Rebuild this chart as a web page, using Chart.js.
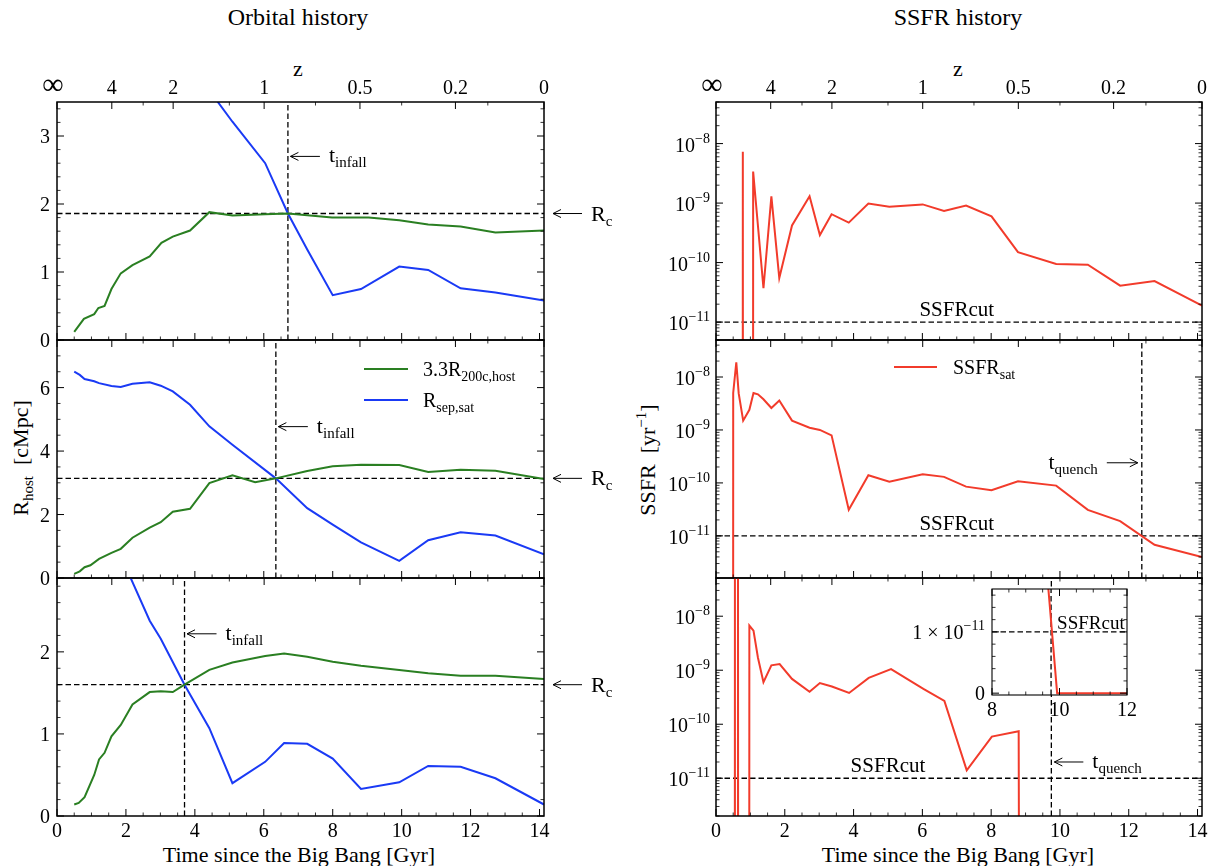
<!DOCTYPE html>
<html>
<head>
<meta charset="utf-8">
<title>Orbital and SSFR history</title>
<script src="https://cdn.jsdelivr.net/npm/chart.js@4.4.1/dist/chart.umd.min.js"></script>
<style>
  html, body { margin: 0; padding: 0; background: #fff; }
  #fig { position: relative; width: 1211px; height: 866px; overflow: hidden;
         font-family: "Liberation Serif", "DejaVu Serif", serif; color: #000; }
  #fig canvas { position: absolute; }
  .lab { position: absolute; white-space: nowrap; font-size: 22px; line-height: 1;
         transform: translate(-50%, -50%); }
  .lab.rot { transform: translate(-50%, -50%) rotate(-90deg); }
  .lab sub { font-size: 15px; vertical-align: -5px; line-height: 0; }
  .lab sup { font-size: 15px; vertical-align: 9px; line-height: 0; }
</style>
</head>
<body>
<div id="fig">
  <div class="lab" style="left:298px; top:17px; font-size:24px">Orbital history</div>
  <div class="lab" style="left:958px; top:17px; font-size:24px">SSFR history</div>
  <div class="lab" style="left:298px; top:69px">z</div>
  <div class="lab" style="left:958px; top:69px">z</div>
  <div class="lab" style="left:299px; top:855px">Time since the Big Bang [Gyr]</div>
  <div class="lab" style="left:958px; top:855px">Time since the Big Bang [Gyr]</div>
  <div class="lab rot" style="left:21px; top:458px">R<sub>host</sub>&nbsp;&nbsp;[cMpc]</div>
  <div class="lab rot" style="left:648px; top:460px">SSFR&nbsp;&nbsp;[yr<sup>−1</sup>]</div>
</div>
<script>
const FONT = '"Liberation Serif", "DejaVu Serif", serif';
const T_MAX = 14.13;

// top axis: redshift labels placed at the cosmic time they belong to
const zTimes = [0, 1.59, 3.37, 6.01, 8.79, 11.56, T_MAX];
const zNames = ['∞', '4', '2', '1', '0.5', '0.2', '0'];
const zMinorTimes = [2.5, 5, 7.5, 10, 12.5];
const timeTicks = [0, 2, 4, 6, 8, 10, 12, 14];

// orbital history, cMpc: 3.3 R200c of the host and host-satellite separation
const tHost1 = [0.50, 0.78, 1.08, 1.20, 1.38, 1.58, 1.85, 2.19, 2.69, 3.03, 3.36, 3.86, 4.42, 5.09, 6.04, 6.70, 7.98, 9.04, 9.93, 10.77, 11.71, 12.72, 14.13];
const rHost1 = [0.12, 0.31, 0.38, 0.47, 0.50, 0.75, 0.98, 1.10, 1.23, 1.43, 1.52, 1.61, 1.88, 1.83, 1.85, 1.86, 1.80, 1.80, 1.76, 1.70, 1.67, 1.58, 1.61];
const tSep1 = [3.86, 4.42, 5.09, 6.04, 6.70, 7.26, 8.00, 8.82, 9.93, 10.77, 11.71, 12.72, 14.13];
const rSep1 = [4.10, 3.67, 3.21, 2.60, 1.86, 1.33, 0.66, 0.75, 1.08, 1.03, 0.76, 0.70, 0.58];

const tHost2 = [0.50, 0.66, 0.80, 0.97, 1.22, 1.58, 1.85, 2.19, 2.69, 3.01, 3.36, 3.86, 4.42, 5.09, 5.75, 6.35, 7.26, 8.00, 8.82, 9.93, 10.77, 11.71, 12.72, 14.13];
const rHost2 = [0.13, 0.21, 0.34, 0.40, 0.60, 0.79, 0.92, 1.27, 1.59, 1.76, 2.09, 2.18, 2.99, 3.24, 3.02, 3.14, 3.37, 3.52, 3.57, 3.56, 3.34, 3.41, 3.38, 3.12];
const tSep2 = [0.50, 0.66, 0.80, 1.08, 1.22, 1.58, 1.85, 2.19, 2.69, 3.01, 3.36, 3.86, 4.42, 5.09, 6.35, 7.26, 8.00, 8.82, 9.93, 10.77, 11.71, 12.72, 14.13];
const rSep2 = [6.50, 6.40, 6.27, 6.20, 6.14, 6.05, 6.02, 6.12, 6.17, 6.06, 5.88, 5.46, 4.78, 4.20, 3.14, 2.20, 1.68, 1.12, 0.54, 1.19, 1.44, 1.34, 0.75];

const tHost3 = [0.50, 0.63, 0.80, 1.08, 1.22, 1.38, 1.58, 1.85, 2.19, 2.69, 3.01, 3.36, 3.70, 4.42, 5.09, 6.04, 6.59, 7.26, 8.00, 8.82, 9.93, 10.77, 11.71, 12.72, 14.13];
const rHost3 = [0.14, 0.16, 0.23, 0.50, 0.69, 0.77, 0.97, 1.11, 1.36, 1.51, 1.52, 1.51, 1.60, 1.78, 1.87, 1.95, 1.98, 1.94, 1.88, 1.83, 1.78, 1.74, 1.71, 1.71, 1.67];
const tSep3 = [1.85, 2.69, 3.01, 3.70, 4.42, 5.09, 6.04, 6.59, 7.26, 8.00, 8.82, 9.93, 10.77, 11.71, 12.72, 14.13];
const rSep3 = [3.17, 2.38, 2.16, 1.60, 1.07, 0.40, 0.66, 0.89, 0.88, 0.70, 0.33, 0.41, 0.61, 0.60, 0.46, 0.14];

const tInfall = [6.70, 6.35, 3.70];
const rCross = [1.86, 3.14, 1.60];

// specific star formation rate of the satellite, yr^-1 (0 = not forming stars)
const tSsfr1 = [0.50, 0.66, 0.78, 0.97, 1.08, 1.38, 1.61, 1.84, 2.21, 2.72, 3.02, 3.36, 3.86, 4.43, 5.04, 6.01, 6.63, 7.27, 8.01, 8.78, 9.89, 10.81, 11.75, 12.75, 14.13];
const ssfr1 = [0, 0, 7.3e-9, 0, 3.4e-9, 3.7e-11, 1.3e-9, 5.5e-11, 4.2e-10, 1.3e-9, 2.9e-10, 6.5e-10, 4.7e-10, 9.8e-10, 8.7e-10, 9.5e-10, 7.4e-10, 9.1e-10, 6.0e-10, 1.5e-10, 9.5e-11, 9.2e-11, 4.1e-11, 4.9e-11, 1.9e-11];

const tSsfr2 = [0.40, 0.50, 0.59, 0.66, 0.79, 0.97, 1.09, 1.22, 1.38, 1.61, 1.84, 2.21, 2.72, 3.02, 3.36, 3.86, 4.43, 5.04, 6.01, 6.63, 7.27, 8.01, 8.78, 9.89, 10.81, 11.75, 12.75, 14.13];
const ssfr2 = [0, 5.0e-9, 1.9e-8, 4.9e-9, 1.5e-9, 2.4e-9, 5.0e-9, 4.7e-9, 3.8e-9, 2.6e-9, 3.6e-9, 1.5e-9, 1.1e-9, 1.0e-9, 7.9e-10, 3.1e-11, 1.4e-10, 1.05e-10, 1.45e-10, 1.3e-10, 8.5e-11, 7.3e-11, 1.07e-10, 8.9e-11, 3.1e-11, 1.9e-11, 6.8e-12, 4.0e-12];

const tSsfr3 = [0.45, 0.55, 0.60, 0.64, 0.80, 0.97, 1.09, 1.22, 1.38, 1.61, 1.85, 2.21, 2.72, 3.02, 3.37, 3.87, 4.44, 5.09, 6.03, 6.64, 7.29, 8.02, 8.80, 9.93, 10.77, 11.71, 12.72, 14.13];
const ssfr3 = [0, 1.0e-7, 0, 1.0e-7, 0, 6.7e-9, 5.4e-9, 1.7e-9, 6.0e-10, 1.23e-9, 1.3e-9, 6.9e-10, 4.0e-10, 5.8e-10, 5.0e-10, 3.8e-10, 7.2e-10, 1.05e-9, 4.5e-10, 2.7e-10, 1.4e-11, 5.9e-11, 7.4e-11, 0, 0, 0, 0, 0];

const ssfrCut = 1e-11;
const tQuench = [null, 12.38, 9.75];

const GREEN = '#2a7f22', BLUE = '#1a3af5', RED = '#f23b2b';

// ---- layout of the six panels (pixels) ----
const fig = document.getElementById('fig');
const colX = [[57, 544], [716, 1202]];
const rowY = [[102, 340], [340, 578], [578, 816]];
const canvasX = [[0, 625], [606, 1211]];
const PAD_V = 46;

function makeCanvas(x0, x1, y0, y1) {
  const c = document.createElement('canvas');
  c.width = x1 - x0; c.height = y1 - y0;
  c.style.left = x0 + 'px'; c.style.top = y0 + 'px';
  c.style.width = (x1 - x0) + 'px'; c.style.height = (y1 - y0) + 'px';
  fig.appendChild(c);
  return c;
}

// log axes: non-positive values are pushed to a tiny number so the
// line drops straight out of the bottom of the panel
const clipLog = v => (v > 0 ? v : 1e-300);

function curve(ts, vs, color, map) {
  return {
    data: ts.map((t, i) => ({ x: t, y: map ? map(vs[i]) : vs[i] })),
    borderColor: color, borderWidth: 2, pointRadius: 0, fill: false, tension: 0
  };
}
function dashed(points) {
  return { data: points, borderColor: '#000', borderWidth: 1.3, borderDash: [5.5, 3],
           pointRadius: 0, fill: false };
}

function steps(lo, hi, step) {
  const out = [];
  for (let v = lo; v <= hi + 1e-9; v += step) out.push(Math.round(v * 1000) / 1000);
  return out;
}
function logTicks(min, max) {
  const major = [], minor = [];
  for (let e = -13; e <= -6; e++) {
    for (let k = 1; k <= 9; k++) {
      const v = k * Math.pow(10, e);
      if (v < min * 0.9999 || v > max * 1.0001) continue;
      (k === 1 ? major : minor).push(v);
    }
  }
  return { major, minor };
}

function drawRich(ctx, segs, x, y, align) {
  let w = 0;
  for (const s of segs) { ctx.font = s[1] + 'px ' + FONT; w += ctx.measureText(s[0]).width; }
  let cx = align === 'right' ? x - w : align === 'center' ? x - w / 2 : x;
  ctx.textAlign = 'left';
  ctx.textBaseline = 'alphabetic';
  for (const s of segs) {
    ctx.font = s[1] + 'px ' + FONT;
    ctx.fillText(s[0], cx, y + (s[2] || 0));
    cx += ctx.measureText(s[0]).width;
  }
  return w;
}

// horizontal arrow with an open head at (xh, y)
function arrow(ctx, xt, xh, y) {
  const d = Math.sign(xh - xt);
  ctx.lineWidth = 1;
  ctx.beginPath();
  ctx.moveTo(xt, y); ctx.lineTo(xh, y);
  ctx.moveTo(xh - d * 8, y - 4); ctx.lineTo(xh, y); ctx.lineTo(xh - d * 8, y + 4);
  ctx.stroke();
}

const SUB = (main, sub, big, small) => [[main, big || 22], [sub, small || 15, 5]];

// spines, inward ticks, tick labels and text for one panel
function frame(spec) {
  return {
    id: 'frame',
    beforeDatasetsDraw(chart) {
      if (!spec.white) return;
      const a = chart.chartArea, ctx = chart.ctx;
      ctx.save(); ctx.fillStyle = '#fff';
      ctx.fillRect(a.left, a.top, a.right - a.left, a.bottom - a.top);
      ctx.restore();
    },
    afterDatasetsDraw(chart) {
      const ctx = chart.ctx, a = chart.chartArea;
      const xs = chart.scales.x, ys = chart.scales.y;
      ctx.save();
      ctx.strokeStyle = '#000'; ctx.fillStyle = '#000';
      const tick = (x, y, dx, dy, w) => {
        ctx.lineWidth = w; ctx.beginPath(); ctx.moveTo(x, y); ctx.lineTo(x + dx, y + dy); ctx.stroke();
      };
      spec.yMajor.forEach(v => { const y = ys.getPixelForValue(v); tick(a.left, y, 7, 0, 1); tick(a.right, y, -7, 0, 1); });
      spec.yMinor.forEach(v => { const y = ys.getPixelForValue(v); tick(a.left, y, 3.5, 0, 0.8); tick(a.right, y, -3.5, 0, 0.8); });
      spec.xMajor.forEach(v => { const x = xs.getPixelForValue(v); tick(x, a.bottom, 0, -7, 1); if (spec.xTopSame) tick(x, a.top, 0, 7, 1); });
      spec.xMinor.forEach(v => { const x = xs.getPixelForValue(v); tick(x, a.bottom, 0, -3.5, 0.8); if (spec.xTopSame) tick(x, a.top, 0, 3.5, 0.8); });
      if (!spec.xTopSame) {
        zTimes.forEach(t => tick(xs.getPixelForValue(t), a.top, 0, 7, 1));
        zMinorTimes.forEach(t => tick(xs.getPixelForValue(t), a.top, 0, 3.5, 0.8));
      }
      ctx.lineWidth = spec.spine || 1.5;
      ctx.strokeRect(a.left, a.top, a.right - a.left, a.bottom - a.top);

      // tick labels
      spec.yLabels.forEach(v => {
        const y = ys.getPixelForValue(v);
        if (spec.log) {
          const e = Math.round(Math.log10(v));
          drawRich(ctx, [['10', 20], ['−' + Math.abs(e), 14, -9]], a.left - 6, y + 8, 'right');
        } else {
          drawRich(ctx, spec.yText ? spec.yText(v) : [[String(v), 20]], a.left - 7, y + 7, 'right');
        }
      });
      if (spec.showTime) {
        spec.xLabels.forEach(v => drawRich(ctx, [[String(v), 20]], xs.getPixelForValue(v), a.bottom + 21, 'center'));
      }
      if (spec.showZ) {
        zTimes.forEach((t, i) => drawRich(ctx, [[zNames[i], i === 0 ? 30 : 20]], xs.getPixelForValue(t) - (i === 0 ? 4 : 0), a.top - 8, 'center'));
      }
      if (spec.notes) spec.notes(ctx, a, xs, ys);
      ctx.restore();
    }
  };
}

function makeChart(canvas, pad, datasets, xScale, yScale, spec) {
  return new Chart(canvas, {
    type: 'line',
    data: { datasets },
    options: {
      responsive: false, animation: false, devicePixelRatio: 1, events: [],
      layout: { padding: pad },
      plugins: { legend: { display: false }, tooltip: { enabled: false } },
      scales: {
        x: Object.assign({ type: 'linear', display: false }, xScale),
        y: Object.assign({ display: false }, yScale)
      }
    },
    plugins: [frame(spec)]
  });
}

function panel(col, row, datasets, yScale, spec) {
  const [px0, px1] = colX[col], [py0, py1] = rowY[row], [cx0, cx1] = canvasX[col];
  const cv = makeCanvas(cx0, cx1, py0 - PAD_V, py1 + PAD_V);
  const pad = { left: px0 - cx0, right: cx1 - px1, top: PAD_V, bottom: PAD_V };
  const base = {
    xMajor: timeTicks, xMinor: steps(0.5, 14, 0.5).filter(v => v % 2 !== 0),
    xLabels: timeTicks, showTime: row === 2, showZ: row === 0
  };
  return makeChart(cv, pad, datasets, { min: 0, max: T_MAX }, yScale, Object.assign(base, spec));
}

// ---- left column: orbital history ----
const orbit = [
  { host: [tHost1, rHost1], sep: [tSep1, rSep1], yMax: 3.5, major: 1, minor: 0.2, noteY: 2.70 },
  { host: [tHost2, rHost2], sep: [tSep2, rSep2], yMax: 7.5, major: 2, minor: 0.5, noteY: 4.77 },
  { host: [tHost3, rHost3], sep: [tSep3, rSep3], yMax: 2.9, major: 1, minor: 0.2, noteY: 2.22 }
];

orbit.forEach((p, r) => {
  const major = steps(0, p.yMax, p.major);
  const datasets = [
    curve(p.host[0], p.host[1], GREEN),
    curve(p.sep[0], p.sep[1], BLUE),
    dashed([{ x: 0, y: rCross[r] }, { x: T_MAX, y: rCross[r] }]),
    dashed([{ x: tInfall[r], y: 0 }, { x: tInfall[r], y: p.yMax }])
  ];
  panel(0, r, datasets, { type: 'linear', min: 0, max: p.yMax }, {
    yMajor: major, yLabels: major,
    yMinor: steps(0, p.yMax, p.minor).filter(v => !major.some(m => Math.abs(m - v) < 1e-6)),
    notes(ctx, a, xs, ys) {
      const xv = xs.getPixelForValue(tInfall[r]), yn = ys.getPixelForValue(p.noteY);
      arrow(ctx, xv + 32, xv + 2.5, yn);
      drawRich(ctx, SUB('t', 'infall'), xv + 41, yn + 6, 'left');
      const yc = ys.getPixelForValue(rCross[r]);
      arrow(ctx, a.right + 38, a.right + 9, yc);
      drawRich(ctx, SUB('R', 'c'), a.right + 47, yc + 7, 'left');
      if (r === 1) {
        const rows = [[GREEN, SUB('3.3R', '200c,host', 20, 14), 29], [BLUE, SUB('R', 'sep,sat', 20, 14), 60]];
        rows.forEach(([c, segs, dy]) => {
          ctx.strokeStyle = c; ctx.lineWidth = 2;
          ctx.beginPath(); ctx.moveTo(a.right - 180, a.top + dy); ctx.lineTo(a.right - 136, a.top + dy); ctx.stroke();
          drawRich(ctx, segs, a.right - 121, a.top + dy + 7, 'left');
        });
        ctx.strokeStyle = '#000';
      }
    }
  });
});

// ---- right column: SSFR history ----
const ssfrPanels = [
  { t: tSsfr1, v: ssfr1, min: 5e-12, max: 5e-8, cutX: 7.0 },
  { t: tSsfr2, v: ssfr2, min: 1.6e-12, max: 5e-8, cutX: 7.0, noteY: 2.4e-10 },
  { t: tSsfr3, v: ssfr3, min: 2.0e-12, max: 5.1e-8, cutX: 5.0, noteY: 2.0e-11 }
];

ssfrPanels.forEach((p, r) => {
  const lt = logTicks(p.min, p.max);
  const datasets = [
    curve(p.t, p.v, RED, clipLog),
    dashed([{ x: 0, y: ssfrCut }, { x: T_MAX, y: ssfrCut }])
  ];
  if (tQuench[r] !== null) datasets.push(dashed([{ x: tQuench[r], y: p.min }, { x: tQuench[r], y: p.max }]));
  panel(1, r, datasets, { type: 'logarithmic', min: p.min, max: p.max }, {
    log: true, yMajor: lt.major, yMinor: lt.minor, yLabels: lt.major,
    notes(ctx, a, xs, ys) {
      const yc = ys.getPixelForValue(ssfrCut);
      drawRich(ctx, [['SSFRcut', 21]], xs.getPixelForValue(p.cutX), yc - 6, 'center');
      if (r === 1) {
        const xq = xs.getPixelForValue(tQuench[r]), yn = ys.getPixelForValue(p.noteY);
        arrow(ctx, xq - 35, xq - 4, yn);
        drawRich(ctx, SUB('t', 'quench'), xq - 44, yn + 6, 'right');
        ctx.strokeStyle = RED; ctx.lineWidth = 2;
        ctx.beginPath(); ctx.moveTo(a.left + 178, a.top + 27); ctx.lineTo(a.left + 221, a.top + 27); ctx.stroke();
        ctx.strokeStyle = '#000';
        drawRich(ctx, SUB('SSFR', 'sat', 20, 14), a.left + 237, a.top + 34, 'left');
      }
      if (r === 2) {
        const xq = xs.getPixelForValue(tQuench[r]), yn = ys.getPixelForValue(p.noteY);
        arrow(ctx, xq + 32, xq + 3, yn);
        drawRich(ctx, SUB('t', 'quench'), xq + 41, yn + 6, 'left');
      }
    }
  });
});

// ---- inset: the quenching of the bottom satellite on a linear axis ----
const insetMin = -3e-13, insetMax = 1.7e-11;
const insetCurve = curve(tSsfr3, ssfr3, RED);
insetCurve.clip = { left: 0, top: 0, right: 0, bottom: 2 };
makeChart(makeCanvas(850, 1140, 575, 722),
  { left: 992 - 850, right: 1140 - 1127, top: 589 - 575, bottom: 722 - 695 },
  [
    insetCurve,
    dashed([{ x: 8, y: ssfrCut }, { x: 12, y: ssfrCut }]),
    dashed([{ x: tQuench[2], y: insetMin }, { x: tQuench[2], y: insetMax }])
  ],
  { min: 8, max: 12 },
  { type: 'linear', min: insetMin, max: insetMax },
  {
    white: true, xTopSame: true, spine: 1.1,
    xMajor: [8, 10, 12], xMinor: [8.5, 9, 9.5, 10.5, 11, 11.5],
    xLabels: [8, 10, 12], showTime: true,
    yMajor: [0, 1e-11], yLabels: [0, 1e-11],
    yMinor: [2e-12, 4e-12, 6e-12, 8e-12, 1.2e-11, 1.4e-11, 1.6e-11],
    yText: v => (v === 0 ? [['0', 20]] : [['1 × 10', 20], ['−11', 14, -9]]),
    notes(ctx, a, xs, ys) {
      drawRich(ctx, [['SSFRcut', 19]], xs.getPixelForValue(10.93), ys.getPixelForValue(ssfrCut) - 3, 'center');
    }
  });
</script>
</body>
</html>
